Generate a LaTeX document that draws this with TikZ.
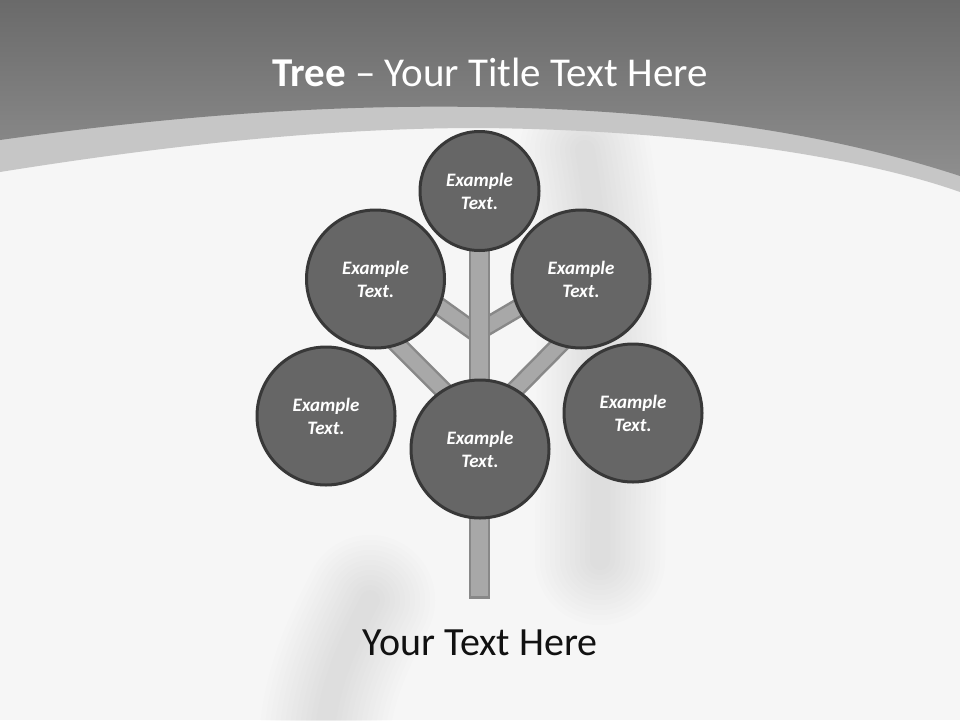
\documentclass[tikz,border=0pt]{standalone}
\usepackage{fontspec}
\setmainfont{Carlito}
\definecolor{bgwhite}{HTML}{F6F6F6}
\definecolor{streak}{HTML}{909090}
\definecolor{bandgray}{HTML}{C6C6C6}
\definecolor{topdark}{HTML}{6A6A6A}
\definecolor{toplight}{HTML}{8E8E8E}
\definecolor{leaffill}{HTML}{666666}
\definecolor{leafline}{HTML}{383838}
\definecolor{woodfill}{HTML}{A8A8A8}
\definecolor{woodline}{HTML}{888888}
\definecolor{bottomtext}{HTML}{111111}
\tikzset{
  leaf/.style={circle, fill=leaffill, draw=leafline, line width=3pt, inner sep=0pt,
    minimum size=138pt, text=white, align=center,
    font=\bfseries\itshape\fontsize{19}{23}\selectfont},
  smallleaf/.style={leaf, minimum size=119pt},
  branchouter/.style={draw=woodline, line width=19pt},
  branchinner/.style={draw=woodfill, line width=14pt},
}
\begin{document}
\begin{tikzpicture}[x=1pt,y=-1pt]
\useasboundingbox (0,0) rectangle (960,720);
% background
\fill[bgwhite] (0,0) rectangle (960,720);
\foreach \w in {130,120,...,20} {
  \draw[streak, opacity=0.018, line width=\w pt, line cap=round]
    (585,150) .. controls (610,300) and (600,430) .. (600,560);
  \draw[streak, opacity=0.016, line width=\w pt, line cap=round]
    (370,600) .. controls (350,640) and (330,680) .. (325,730);
}
\fill[bandgray] (0,0) -- (0,172) .. controls (200,140) and (350,128) .. (480,128)
  .. controls (700,130) and (870,160) .. (960,192) -- (960,0) -- cycle;
\shade[top color=topdark, bottom color=toplight] (0,0) -- (0,140)
  .. controls (200,112) and (350,105) .. (480,107)
  .. controls (700,110) and (850,140) .. (960,176) -- (960,0) -- cycle;
% title
\node[anchor=base, text=white, font=\fontsize{41}{48}\selectfont] (title) at (490,86.7)
  {\textbf{Tree} -- Your Title Text Here};
% branch end points
\coordinate (ls1) at (412,287);
\coordinate (ls2) at (479,335);
\coordinate (lb1) at (383,330);
\coordinate (lb2) at (462,409);
\coordinate (rs1) at (542,294);
\coordinate (rs2) at (479,331);
\coordinate (rb1) at (577,327);
\coordinate (rb2) at (498,407);
\foreach \a/\b in {ls1/ls2, lb1/lb2, rs1/rs2, rb1/rb2} {
  \draw[branchouter] (\a) -- (\b);
}
\foreach \a/\b in {ls1/ls2, lb1/lb2, rs1/rs2, rb1/rb2} {
  \draw[branchinner] (\a) -- (\b);
}
% trunk
\node[draw=woodline, fill=woodfill, line width=2.5pt, minimum width=19pt,
  minimum height=350pt, inner sep=0pt, anchor=south] (trunk) at (479.5,598.75) {};
% leaves
\node[smallleaf] (top) at (479.5,191) {Example\\Text.};
\node[leaf] (ul) at (375.5,279) {Example\\Text.};
\node[leaf] (ur) at (581,279) {Example\\Text.};
\node[leaf] (ll) at (326,416) {Example\\Text.};
\node[leaf] (cc) at (480,449) {Example\\Text.};
\node[leaf] (rr) at (633,413) {Example\\Text.};
% bottom text
\node[anchor=base, text=bottomtext, font=\fontsize{40}{46}\selectfont] (caption) at (480,655.7)
  {Your Text Here};
\end{tikzpicture}
\end{document}
